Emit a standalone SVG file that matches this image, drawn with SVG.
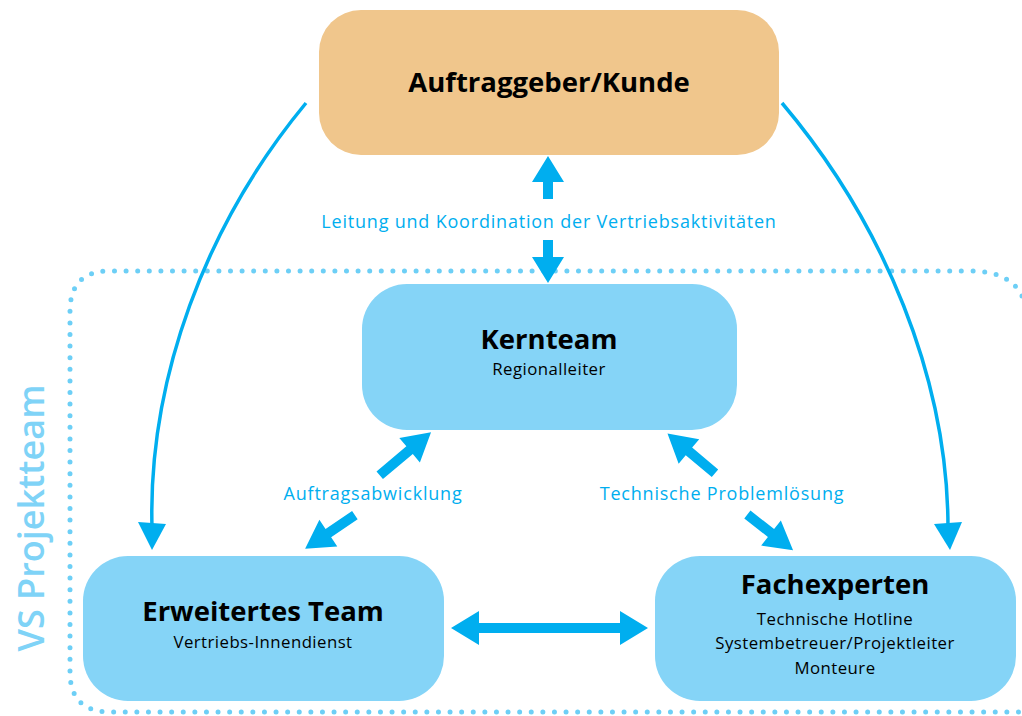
<svg xmlns="http://www.w3.org/2000/svg" width="1022" height="716" viewBox="0 0 1022 716">
<defs>
<style>
.box{fill:#85D4F7}
.t{font-family:"Open Sans","Liberation Sans",sans-serif;fill:#000;text-anchor:middle}
.h{font-weight:700;font-size:27.5px}
.s{font-size:16.8px;letter-spacing:0.45px}
.lab{font-family:"Open Sans","Liberation Sans",sans-serif;fill:#00AEEF;font-size:18px;letter-spacing:0.8px;text-anchor:middle}
.arr{fill:#00AEEF}
.curve{fill:none;stroke:#00AEEF;stroke-width:3.5}
</style>
</defs>
<rect width="1022" height="716" fill="#fff"/>
<g id="frame">
<path d="M1022,296 Q1010,271 970,271 L110,271 Q70,271 70,311 L70,672 Q70,712 110,712 L1022,712" fill="none" stroke="#6DCFF6" stroke-width="5" stroke-linecap="round" stroke-dasharray="0 11.6"/>
<text transform="translate(44,518) rotate(-90)" font-family="Open Sans,Liberation Sans,sans-serif" font-size="36" font-weight="600" fill="#7FD3F7" text-anchor="middle">VS Projektteam</text>
</g>
<g id="connectors">
<path class="curve" d="M306,103 C205,225 148,380 152,528"/>
<path class="arr" d="M138,522 L166,524 L152,550 Z"/>
<path class="curve" d="M782,103 C885,225 948,380 948,528"/>
<path class="arr" d="M934,524 L962,522 L950,550 Z"/>
<path class="arr" d="M548,156 L564,182 L553,182 L553,199 L543,199 L543,182 L532,182 Z"/>
<path class="arr" d="M548,283 L564,257 L553,257 L553,240 L543,240 L543,257 L532,257 Z"/>
<g transform="translate(405,454) rotate(-40)"><path class="arr" d="M34,0 L6,-16 L6,-5 L-33,-5 L-33,5 L6,5 L6,16 Z"/></g>
<g transform="translate(330,532) rotate(146)"><path class="arr" d="M30,0 L2,-16 L2,-5 L-30,-5 L-30,5 L2,5 L2,16 Z"/></g>
<g transform="translate(692,454) rotate(-140)"><path class="arr" d="M32,0 L4,-16 L4,-5 L-30,-5 L-30,5 L4,5 L4,16 Z"/></g>
<g transform="translate(771,533) rotate(38)"><path class="arr" d="M28,0 L0,-16 L0,-5 L-30,-5 L-30,5 L0,5 L0,16 Z"/></g>
<path class="arr" d="M451,628 L479,611 L479,623 L620,623 L620,611 L648,628 L620,645 L620,633 L479,633 L479,645 Z"/>
<text class="lab" x="549" y="228">Leitung und Koordination der Vertriebsaktivitäten</text>
<text class="lab" x="373" y="500">Auftragsabwicklung</text>
<text class="lab" x="722" y="500">Technische Problemlösung</text>
</g>
<g id="auftraggeber">
<rect x="319" y="10" width="460" height="145" rx="42" fill="#F0C68C"/>
<text class="t h" x="549" y="92">Auftraggeber/Kunde</text>
</g>
<g id="kernteam">
<rect class="box" x="362" y="284" width="375" height="146" rx="45"/>
<text class="t h" x="549" y="349">Kernteam</text>
<text class="t s" x="549" y="375">Regionalleiter</text>
</g>
<g id="erweitert">
<rect class="box" x="83" y="556" width="361" height="145" rx="45"/>
<text class="t h" x="263" y="621">Erweitertes Team</text>
<text class="t s" x="263" y="648">Vertriebs-Innendienst</text>
</g>
<g id="fachexperten">
<rect class="box" x="655" y="556" width="361" height="145" rx="45"/>
<text class="t h" x="835" y="594">Fachexperten</text>
<text class="t s" x="835" y="625">Technische Hotline</text>
<text class="t s" x="835" y="649">Systembetreuer/Projektleiter</text>
<text class="t s" x="835" y="674">Monteure</text>
</g>
</svg>
